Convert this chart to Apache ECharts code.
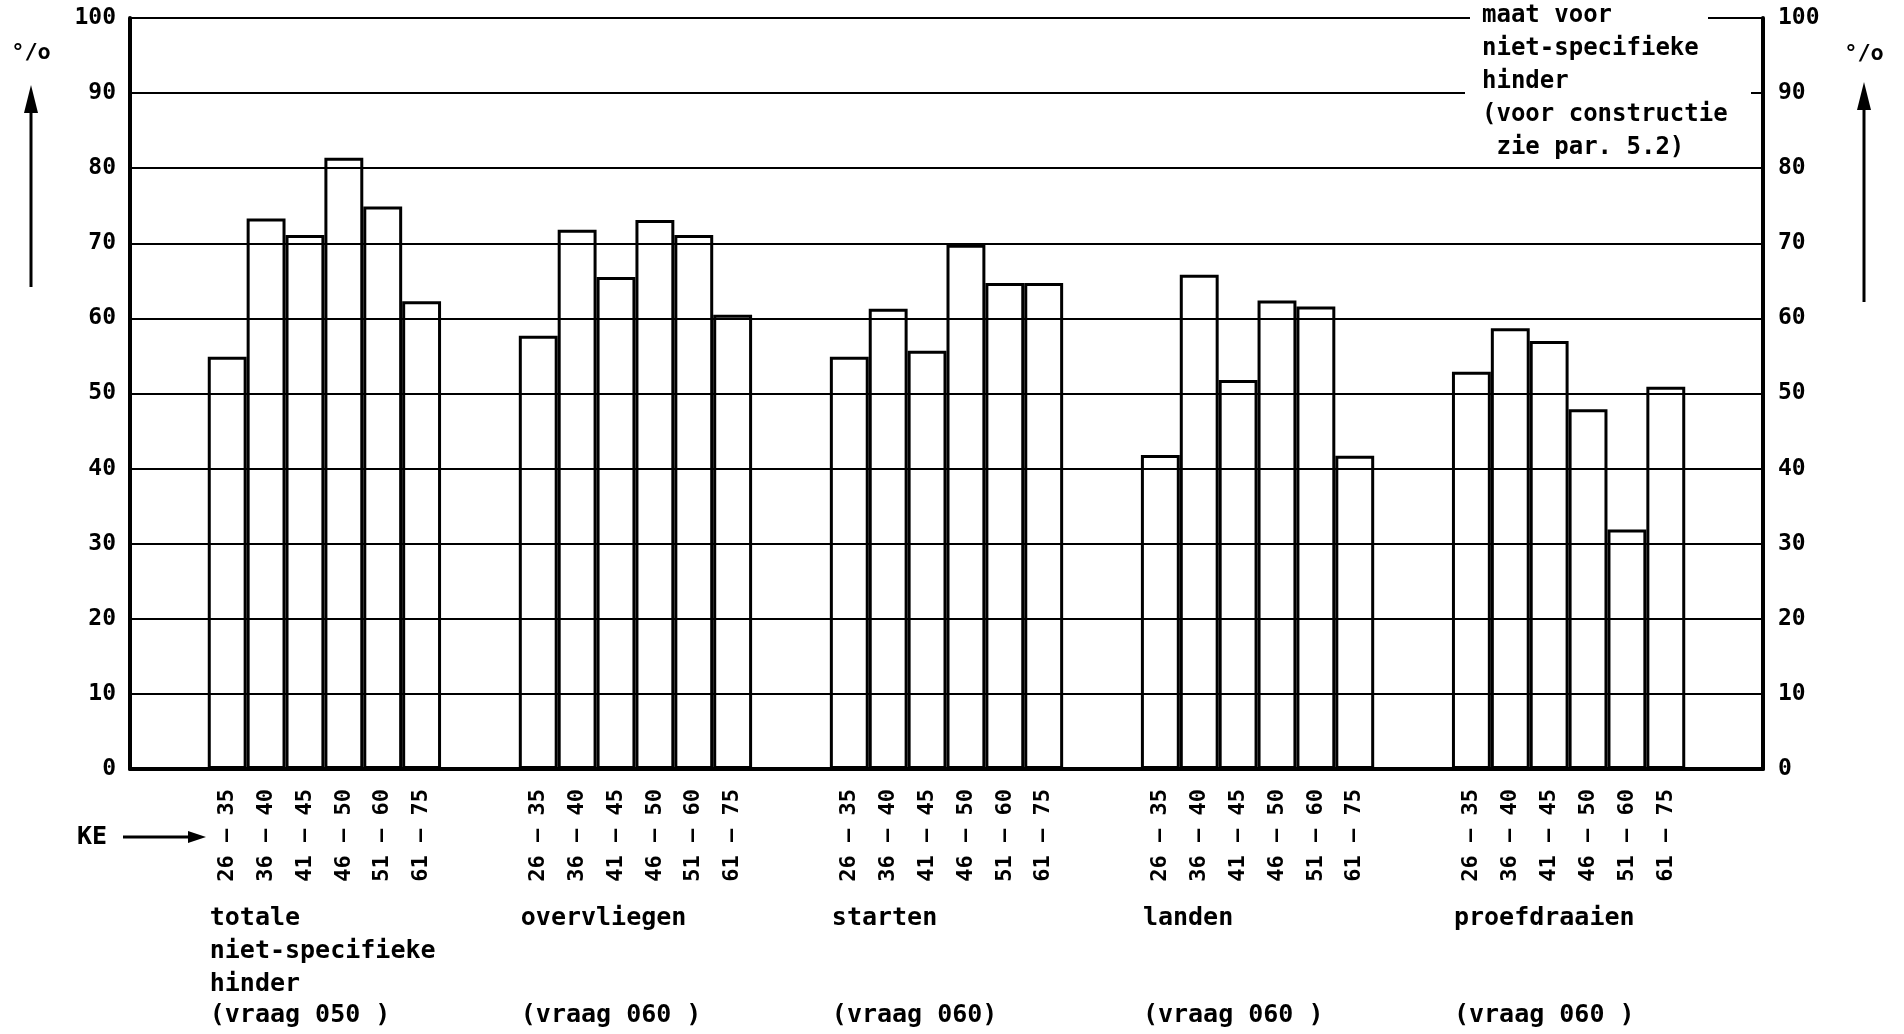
<!DOCTYPE html>
<html>
<head>
<meta charset="utf-8">
<script src="https://cdn.jsdelivr.net/npm/echarts@6/dist/echarts.min.js"></script>
<style>
html,body{margin:0;padding:0;background:#fff;}
#c{width:1904px;height:1034px;}
</style>
</head>
<body>
<div id="c"></div>
<script>
// ---- data ----
const groupNames = ['totale', 'overvliegen', 'starten', 'landen', 'proefdraaien'];
const groupExtraLines = [['niet-specifieke', 'hinder'], [], [], [], []];
const questionLabels = ['(vraag 050 )', '(vraag 060 )', '(vraag 060)', '(vraag 060 )', '(vraag 060 )'];
const keLabels = ['26 – 35', '36 – 40', '41 – 45', '46 – 50', '51 – 60', '61 – 75'];
const totale = [54.9, 73.3, 71.1, 81.4, 74.9, 62.3];
const overvliegen = [57.7, 71.8, 65.5, 73.1, 71.1, 60.5];
const starten = [54.9, 61.3, 55.7, 69.8, 64.7, 64.7];
const landen = [41.8, 65.8, 51.8, 62.4, 61.6, 41.7];
const proefdraaien = [52.9, 58.7, 57.0, 47.9, 31.9, 50.9];
const yTicks = { min: 0, max: 100, interval: 10 };
const noteLines = ['maat voor', 'niet-specifieke', 'hinder', '(voor constructie', ' zie par. 5.2)'];
const groupValues = [totale, overvliegen, starten, landen, proefdraaien];

// ---- build category slots (2 empty slots around / between groups) ----
const cats = [];
const vals = [];
const groupFirstIndex = [];
function pushGap(tag) { for (let k = 0; k < 2; k++) { cats.push('gap' + tag + '_' + k); vals.push(null); } }
pushGap('s');
groupNames.forEach((g, gi) => {
  if (gi > 0) pushGap(gi);
  groupFirstIndex.push(cats.length);
  keLabels.forEach((ke, ki) => { cats.push(g + '|' + ke); vals.push(groupValues[gi][ki]); });
});
pushGap('e');

const FONT = 'DejaVu Sans Mono';
const chart = echarts.init(document.getElementById('c'));

chart.setOption({
  backgroundColor: '#fff',
  animation: false,
  grid: { left: 130, right: 141, top: 18, bottom: 265 },
  xAxis: {
    type: 'category',
    data: cats,
    boundaryGap: true,
    axisLine: { lineStyle: { color: '#000', width: 4 } },
    axisTick: { show: false },
    axisLabel: {
      interval: 0, rotate: 90, margin: 20,
      color: '#000', fontFamily: FONT, fontWeight: 'bold', fontSize: 22,
      formatter: v => (v.indexOf('|') >= 0 ? v.split('|')[1] : '')
    },
    splitLine: { show: false }
  },
  yAxis: [{
    type: 'value', min: yTicks.min, max: yTicks.max, interval: yTicks.interval,
    position: 'left',
    axisLine: { show: true, lineStyle: { color: '#000', width: 4 } },
    axisTick: { show: false },
    axisLabel: { color: '#000', fontFamily: FONT, fontWeight: 'bold', fontSize: 23, margin: 14 },
    splitLine: { show: true, lineStyle: { color: '#000', width: 2 } }
  }, {
    type: 'value', min: yTicks.min, max: yTicks.max, interval: yTicks.interval,
    position: 'right',
    axisLine: { show: true, lineStyle: { color: '#000', width: 4 } },
    axisTick: { show: true, inside: true, length: 12, lineStyle: { color: '#000', width: 2 } },
    axisLabel: { color: '#000', fontFamily: FONT, fontWeight: 'bold', fontSize: 23, margin: 15 },
    splitLine: { show: false }
  }],
  series: [{
    type: 'bar',
    data: vals,
    barWidth: '100%',
    itemStyle: { color: 'rgba(255,255,255,0)', borderColor: '#000', borderWidth: 3 },
    z: 3
  }]
});

// ---- overlay texts / arrows positioned from the axes ----
const c0 = chart.convertToPixel({ xAxisIndex: 0 }, 0);
const c1 = chart.convertToPixel({ xAxisIndex: 0 }, 1);
const slot = c1 - c0;
const y100 = chart.convertToPixel({ yAxisIndex: 0 }, 100);
const y90 = chart.convertToPixel({ yAxisIndex: 0 }, 90);
const xRight = chart.convertToPixel({ xAxisIndex: 0 }, cats.length - 1) + slot / 2;

const txt = (x, y, s, size, extra) => Object.assign({
  type: 'text', x: x, y: y, z: 50,
  style: Object.assign({ text: s, fill: '#000', font: 'bold ' + size + 'px "' + FONT + '"', textVerticalAlign: 'top' }, extra || {})
});
const g = [];
// group names
groupNames.forEach((name, gi) => {
  const x = chart.convertToPixel({ xAxisIndex: 0 }, groupFirstIndex[gi]) - slot / 2 + 2;
  g.push(txt(x, 906, name, 25));
  groupExtraLines[gi].forEach((l, li) => g.push(txt(x, 939 + li * 33, l, 25)));
  g.push(txt(x, 1003, questionLabels[gi], 25));
});
// white cut-outs in the gridlines behind the note
g.push({ type: 'rect', z: 40, shape: { x: 1470, y: y100 - 4, width: 238, height: 8 }, style: { fill: '#fff' } });
g.push({ type: 'rect', z: 40, shape: { x: 1465, y: y90 - 4, width: xRight - 12 - 1465, height: 8 }, style: { fill: '#fff' } });
noteLines.forEach((l, i) => g.push(txt(1482, 16 + i * 33, l, 24, { textVerticalAlign: 'middle' })));
// KE arrow
g.push(txt(77, 837, 'KE', 25, { textVerticalAlign: 'middle' }));
g.push({ type: 'line', z: 50, shape: { x1: 123, y1: 837, x2: 192, y2: 837 }, style: { stroke: '#000', lineWidth: 3 } });
g.push({ type: 'polygon', z: 50, shape: { points: [[188, 831], [206, 837], [188, 843]] }, style: { fill: '#000' } });
// percent arrows
[[31, 53, 85, 287], [1864, 54, 82, 302]].forEach(a => {
  g.push(txt(a[0], a[1], '°/o', 22, { textAlign: 'center', textVerticalAlign: 'middle' }));
  g.push({ type: 'line', z: 50, shape: { x1: a[0], y1: a[3], x2: a[0], y2: a[2] + 20 }, style: { stroke: '#000', lineWidth: 3 } });
  g.push({ type: 'polygon', z: 50, shape: { points: [[a[0] - 7, a[2] + 28], [a[0], a[2]], [a[0] + 7, a[2] + 28]] }, style: { fill: '#000' } });
});
chart.setOption({ graphic: { elements: g } });
</script>
</body>
</html>
